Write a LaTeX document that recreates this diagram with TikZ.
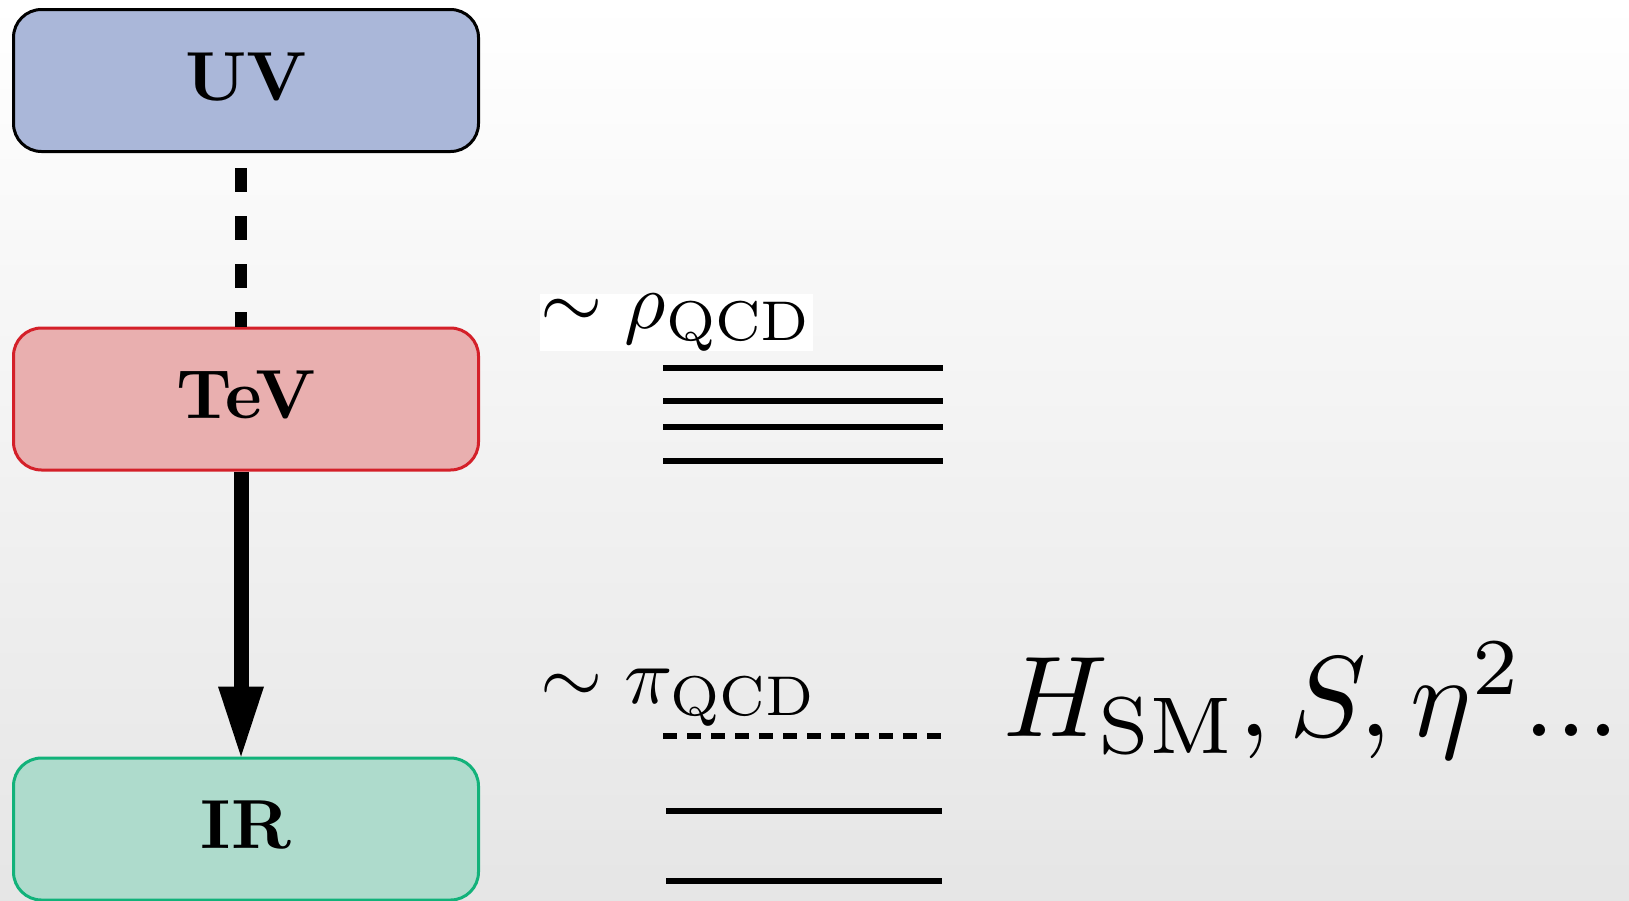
\RequirePackage{fix-cm}
\documentclass[tikz,border=0pt]{standalone}
\usepackage{graphicx}
\usetikzlibrary{arrows.meta,calc}
\definecolor{uvfill}{HTML}{AAB7D9}
\definecolor{tevfill}{HTML}{E9AFAF}
\definecolor{tevdraw}{HTML}{D42029}
\definecolor{irfill}{HTML}{AEDBCC}
\definecolor{irdraw}{HTML}{12B27A}
\newcommand{\bigtxt}[1]{\scalebox{8}{#1}}
\newcommand{\boxtxt}[1]{\scalebox{6.95}{\bfseries #1}}
\begin{document}
\begin{tikzpicture}[x=1pt,y=-1pt,
  box/.style={rounded corners=28pt, line width=3pt, minimum width=465pt, minimum height=142pt,
    inner sep=0pt, text height=48pt, text depth=9pt},
  level/.style={line width=5.5pt},
  lbl/.style={inner sep=0pt, anchor=base west}]
\useasboundingbox (0,0) rectangle (1629,900);
\clip (0,0) rectangle (1629,900);
\shade[top color=white, bottom color=gray!20] (0,0) rectangle (1629,900);
% boxes
\node[box, draw=black, fill=uvfill] (uv) at (246,80.5) {\boxtxt{UV}};
\node[box, draw=tevdraw, fill=tevfill] (tev) at (246,399) {\boxtxt{TeV}};
\node[box, draw=irdraw, fill=irfill] (ir) at (246,829) {\boxtxt{IR}};
% connectors
\coordinate (uvb) at ($(uv.south)+(-5,0)$);
\coordinate (tevt) at ($(tev.north)+(-5,0)$);
\coordinate (tevb) at ($(tev.south)+(-5,0)$);
\coordinate (irt) at ($(ir.north)+(-5,0)$);
\draw[line width=12pt, dash pattern=on 24pt off 24pt, dash phase=33pt] (uvb) -- (tevt);
\draw[line width=15pt, -{Triangle[length=70pt,width=46pt,line width=0pt]}] (tevb) -- (irt);
% levels
\draw[level] (663,368) -- (943,368);
\draw[level] (663,401) -- (943,401);
\draw[level] (663,427) -- (943,427);
\draw[level] (663,461) -- (943,461);
\draw[level, dash pattern=on 14pt off 10pt] (663,736) -- (941,736);
\draw[level] (666,811) -- (942,811);
\draw[level] (666,881) -- (942,881);
% labels
\node[lbl, fill=white] (rho) at (540,328) {\bigtxt{$\sim \rho_{\mathrm{QCD}}$}};
\node[lbl] (pi) at (540,703) {\bigtxt{$\sim \pi_{\mathrm{QCD}}$}};
\node[lbl] (h) at (1003,736) {\scalebox{11.5}{$H_{\mathrm{SM}}, S, \eta^2 ...$}};
\end{tikzpicture}
\end{document}
